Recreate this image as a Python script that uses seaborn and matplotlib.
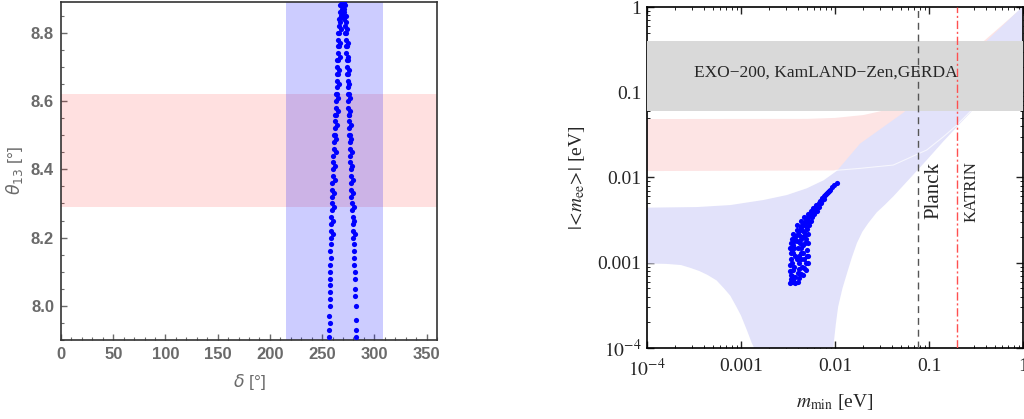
import seaborn as sns
import matplotlib.pyplot as plt
from matplotlib.ticker import MultipleLocator, LogLocator, NullFormatter

# ---- left panel: theta13 vs delta scan ----
left_theta = [7.91, 7.93, 7.95, 7.97, 8.00, 8.02, 8.04, 8.06, 8.08, 8.10, 8.12, 8.14, 8.16,
              8.18, 8.20, 8.22, 8.24, 8.26, 8.28, 8.30, 8.32, 8.34, 8.36, 8.38, 8.40, 8.42,
              8.44, 8.46, 8.48, 8.50, 8.52, 8.54, 8.56, 8.58, 8.60, 8.62, 8.64, 8.66, 8.68,
              8.70, 8.72, 8.74, 8.76, 8.78, 8.80, 8.82, 8.84, 8.86, 8.88]
left_delta = [257.0, 256.8, 257.3, 256.9, 257.2, 257.6, 257.3, 257.8, 257.5, 258.0, 257.7, 258.2, 258.0,
              258.4, 258.2, 258.7, 258.5, 258.9, 259.2, 259.0, 259.5, 259.8, 259.6, 260.2, 260.5, 260.3,
              260.9, 261.2, 261.0, 261.7, 262.0, 262.4, 262.2, 262.9, 263.3, 263.1, 263.8, 264.0, 264.3,
              264.6, 264.4, 265.0, 265.3, 265.1, 265.6, 266.0, 266.4, 267.0, 267.6]
left2_theta = [8.21, 8.25, 8.29, 8.33, 8.37, 8.41, 8.45, 8.49, 8.53, 8.57, 8.61, 8.65, 8.69, 8.73,
               8.77, 8.81, 8.85]
left2_delta = [260.2, 260.6, 261.2, 261.6, 262.2, 262.7, 263.2, 263.7, 264.3, 264.8, 265.3, 265.9,
               266.4, 266.9, 267.4, 267.9, 268.5]
right_theta = [7.91, 7.93, 7.96, 8.00, 8.03, 8.05, 8.08, 8.10, 8.12, 8.14, 8.16, 8.18, 8.20,
               8.22, 8.24, 8.26, 8.28, 8.30, 8.32, 8.34, 8.36, 8.38, 8.40, 8.42, 8.44, 8.46,
               8.48, 8.50, 8.52, 8.54, 8.56, 8.58, 8.60, 8.62, 8.64, 8.66, 8.68, 8.70, 8.72,
               8.74, 8.76, 8.78, 8.80, 8.82, 8.84, 8.86, 8.88]
right_delta = [282.5, 282.3, 282.4, 282.0, 281.9, 281.6, 281.5, 281.2, 280.9, 280.7, 280.5, 280.2, 279.9,
               279.6, 279.4, 279.1, 278.8, 278.4, 278.1, 277.9, 277.7, 277.5, 277.3, 277.1, 276.8, 276.6,
               276.4, 276.1, 275.9, 275.6, 275.4, 275.2, 275.0, 274.8, 274.6, 274.4, 274.2, 274.0, 273.7,
               273.3, 273.0, 272.5, 272.1, 271.6, 271.2, 270.7, 270.2]
right2_theta = [8.21, 8.25, 8.29, 8.33, 8.37, 8.41, 8.45, 8.49, 8.53, 8.57, 8.61, 8.65, 8.69, 8.73,
                8.77, 8.81, 8.85]
right2_delta = [281.4, 280.9, 280.3, 279.7, 279.3, 278.9, 278.4, 277.9, 277.4, 277.0, 276.6, 276.2,
                275.8, 275.2, 274.4, 273.5, 272.6]
top_theta = [8.50, 8.56, 8.62, 8.68, 8.72, 8.76, 8.80, 8.83, 8.85, 8.86, 8.87, 8.88, 8.89, 8.89, 8.88,
             8.87, 8.85, 8.83, 8.80, 8.76, 8.72, 8.68, 8.62, 8.56, 8.50]
top_delta = [262.5, 263.0, 264.0, 265.0, 265.3, 266.0, 266.5, 267.0, 267.8, 268.5, 269.3, 268.2, 269.0,
             270.8, 271.5, 270.5, 270.0, 272.5, 273.0, 274.0, 274.5, 275.0, 275.6, 276.2, 277.0]
theta13_band = (8.29, 8.62)
delta_band = (215, 308)

# ---- right panel: |<m_ee>| vs m_min ----
scan_mmin = [0.0104, 0.0098, 0.0093, 0.0088, 0.0084, 0.0080, 0.0077, 0.0074, 0.0072, 0.0070, 0.0076,
             0.0068, 0.0066, 0.0071, 0.0064, 0.0062, 0.0067, 0.0060, 0.0058, 0.0064, 0.0056, 0.0060,
             0.0054, 0.0052, 0.0057, 0.0050, 0.0055, 0.0048, 0.0046, 0.0053, 0.0044, 0.0050, 0.0042,
             0.0047, 0.0040, 0.0052, 0.0038, 0.0045, 0.0049, 0.0037, 0.0042, 0.0052, 0.0036, 0.0046,
             0.0035, 0.0040, 0.0050, 0.0034, 0.0044, 0.0038, 0.0052, 0.0034, 0.0047, 0.0041, 0.0033,
             0.0051, 0.0037, 0.0045, 0.0033, 0.0049, 0.0040, 0.0035, 0.0046, 0.0034, 0.0041, 0.0036,
             0.0038, 0.0034,
             0.0039, 0.0043, 0.0047, 0.0051, 0.0055, 0.0059, 0.0063, 0.0069, 0.0073, 0.0078, 0.0082,
             0.0086, 0.0036, 0.0039, 0.0043, 0.0048, 0.0052, 0.0035, 0.0041, 0.0045, 0.0049, 0.0034,
             0.0039, 0.0044, 0.0048, 0.0033, 0.0037, 0.0043, 0.0048, 0.0036, 0.0041, 0.0046, 0.0050,
             0.0035, 0.0039, 0.0043, 0.0049, 0.0036, 0.0041, 0.0047, 0.0034, 0.0038, 0.0043, 0.0036,
             0.0040, 0.0033]
scan_mee = [0.0087, 0.0082, 0.0077, 0.0072, 0.0068, 0.0064, 0.0060, 0.0058, 0.0055, 0.0052, 0.0056,
            0.0050, 0.0048, 0.0050, 0.0046, 0.0044, 0.0045, 0.0042, 0.0040, 0.0041, 0.0038, 0.0037,
            0.0036, 0.0034, 0.0034, 0.0032, 0.0031, 0.0030, 0.0028, 0.0028, 0.0026, 0.0025, 0.0024,
            0.0023, 0.0022, 0.0022, 0.0020, 0.0020, 0.0019, 0.0018, 0.0017, 0.0017, 0.0016, 0.0016,
            0.0014, 0.0015, 0.0014, 0.0013, 0.0013, 0.0012, 0.0012, 0.0011, 0.0011, 0.0010, 0.00095,
            0.00098, 0.00088, 0.00090, 0.00080, 0.00082, 0.00076, 0.00070, 0.00072, 0.00064, 0.00066,
            0.00059, 0.00058, 0.00060,
            0.0028, 0.0031, 0.0034, 0.0037, 0.0040, 0.0044, 0.0048, 0.0053, 0.0057, 0.0062, 0.0065,
            0.0070, 0.0022, 0.0024, 0.0027, 0.0030, 0.0031, 0.0019, 0.0021, 0.0024, 0.0027, 0.0017,
            0.0018, 0.0019, 0.0021, 0.0015, 0.0015, 0.0015, 0.0017, 0.0013, 0.0012, 0.0013, 0.0012,
            0.0010, 0.0011, 0.0011, 0.0010, 0.00082, 0.00085, 0.00086, 0.00072, 0.00068, 0.00074, 0.00063,
            0.00060, 0.00058]
no_up_m = [1e-4, 3.4e-4, 7.7e-4, 1.74e-3, 3.08e-3, 5.0e-3, 7.6e-3, 0.0105, 0.0185, 0.0527, 0.1, 0.41, 1.0]
no_up_mee = [0.00443, 0.0045, 0.00475, 0.00545, 0.00623, 0.00746, 0.0093, 0.012, 0.025, 0.057, 0.1, 0.4, 1.02]
no_lo_m = [1e-4, 1.6e-4, 2.3e-4, 2.9e-4, 3.6e-4, 4.4e-4, 5.5e-4, 6.6e-4, 7.7e-4, 9.0e-4, 1.0e-3, 1.16e-3,
           1.3e-3, 1.38e-3, 1.45e-3, 9.0e-3, 9.6e-3, 0.0102, 0.0108, 0.0120, 0.0134, 0.0151, 0.0171,
           0.0195, 0.0225, 0.0278, 0.0340, 0.0417, 0.0628, 0.0945, 0.142, 0.214, 0.273, 0.5, 1.0]
no_lo_mee = [9.8e-4, 9.7e-4, 9.4e-4, 8.7e-4, 8.0e-4, 7.2e-4, 6.2e-4, 5.0e-4, 4.1e-4, 3.0e-4, 2.4e-4, 1.6e-4,
             1.15e-4, 1.0e-4, 5e-5, 5e-5, 1.03e-4, 1.9e-4, 3.05e-4, 5.0e-4, 7.5e-4, 1.15e-3, 1.7e-3,
             2.3e-3, 2.9e-3, 3.9e-3, 4.8e-3, 6.0e-3, 9.8e-3, 0.016, 0.0265, 0.043, 0.057, 0.12, 0.22]
io_up_m = [1e-4, 0.005, 0.01, 0.02, 0.04, 0.1, 1.0]
io_up_mee = [0.0485, 0.0487, 0.050, 0.054, 0.064, 0.11, 1.0]
io_lo_m = [1e-4, 0.01, 0.0185, 0.0417, 0.0945, 0.142, 0.197, 0.273, 1.0]
io_lo_mee = [0.0119, 0.0121, 0.0128, 0.014, 0.021, 0.030, 0.041, 0.059, 0.2]
exp_band = (0.06, 0.4)
planck = 0.076
katrin = 0.2

sns.set_style("ticks")
fig = plt.figure(figsize=(10.24, 4.19), dpi=100)
ax1 = fig.add_axes([61 / 1024, 79 / 419, 376 / 1024, 338 / 419])
ax2 = fig.add_axes([647 / 1024, 71 / 419, 376 / 1024, 341 / 419])

gray = "#6a6a6a"
blue = "#0000ff"

# ----- left -----
ax1.axhspan(*theta13_band, color="#ff0000", alpha=0.12, lw=0)
ax1.axvspan(*delta_band, color="#0000ff", alpha=0.2, lw=0)
for th, de in [(left_theta, left_delta), (left2_theta, left2_delta), (right_theta, right_delta),
               (right2_theta, right2_delta), (top_theta, top_delta)]:
    sns.scatterplot(x=de, y=th, ax=ax1, color=blue, s=14, linewidth=0, zorder=3)
ax1.set_xlim(0, 360)
ax1.set_ylim(7.9, 8.89)
ax1.set_xticks(range(0, 351, 50), [str(v) for v in range(0, 351, 50)],
               fontfamily="Liberation Sans", fontweight="bold", fontsize=12, color=gray)
ax1.set_yticks([8.0, 8.2, 8.4, 8.6, 8.8], ["8.0", "8.2", "8.4", "8.6", "8.8"],
               fontfamily="Liberation Sans", fontweight="bold", fontsize=12, color=gray)
ax1.xaxis.set_minor_locator(MultipleLocator(10))
ax1.yaxis.set_minor_locator(MultipleLocator(0.05))
ax1.tick_params(which="both", direction="in", color=gray, top=False, right=False, pad=5)
ax1.tick_params(which="major", length=4, width=1)
ax1.tick_params(which="minor", length=2.5, width=0.8)
for sp in ax1.spines.values():
    sp.set_color("#333333")
    sp.set_linewidth(1.2)
ax1.set_xlabel(r"$\delta$ [°]", fontsize=12.5, color=gray, fontfamily="Liberation Sans",
               math_fontfamily="dejavusans")
ax1.set_ylabel(r"$\theta_{13}$ [°]", fontsize=12.5, color=gray, fontfamily="Liberation Sans",
               math_fontfamily="dejavusans")
ax1.xaxis.set_label_coords(0.5, -0.095)
ax1.yaxis.set_label_coords(-0.095, 0.5)

# ----- right -----
ax2.set_xscale("log")
ax2.set_yscale("log")
ax2.fill(io_up_m + io_lo_m[::-1], io_up_mee + io_lo_mee[::-1], color="#fde4e4", lw=0, zorder=1)
ax2.fill(no_up_m + no_lo_m[::-1], no_up_mee + no_lo_mee[::-1], color="#e2e2fa", lw=0, zorder=2)
ax2.plot(io_lo_m[1:], io_lo_mee[1:], color="white", lw=0.8, alpha=0.7, zorder=2.5)
ax2.axhspan(*exp_band, color="#d9d9d9", lw=0, zorder=3)
sns.scatterplot(x=scan_mmin, y=scan_mee, ax=ax2, color=blue, s=14, linewidth=0, zorder=4)
ax2.axvline(planck, color="#555555", ls=(0, (5, 3.5)), lw=1, zorder=5)
ax2.axvline(katrin, color="#ff5050", ls=(0, (6, 2, 1.5, 2)), lw=1, zorder=5)
ax2.text(0.008, 0.17, "EXO\u2212200, KamLAND\u2212Zen,GERDA", fontsize=12.5,
         fontfamily="Liberation Serif", ha="center", va="center", zorder=6)
ax2.text(0.112, 0.0071, "Planck", fontsize=15, rotation=90, fontfamily="Liberation Serif",
         ha="center", va="center", zorder=6)
ax2.text(0.283, 0.0068, "KATRIN", fontsize=12, rotation=90, fontfamily="Liberation Serif",
         ha="center", va="center", zorder=6)
ax2.set_xlim(1e-4, 1)
ax2.set_ylim(1e-4, 1)
dec = [1e-4, 1e-3, 1e-2, 0.1, 1]
dec_labels = [r"$10^{-4}$", "0.001", "0.01", "0.1", "1"]
ax2.set_xticks(dec, dec_labels, fontfamily="Liberation Serif", fontsize=14, math_fontfamily="stix")
ax2.set_yticks(dec, dec_labels, fontfamily="Liberation Serif", fontsize=14, math_fontfamily="stix")
for axis in (ax2.xaxis, ax2.yaxis):
    axis.set_minor_locator(LogLocator(base=10, subs=range(2, 10), numticks=20))
    axis.set_minor_formatter(NullFormatter())
ax2.tick_params(which="both", direction="in", top=True, right=True, color="#222222")
ax2.tick_params(which="major", length=5, width=1)
ax2.tick_params(which="minor", length=2.5, width=0.7)
ax2.tick_params(axis="x", pad=7)
ax2.tick_params(axis="y", pad=4)
for sp in ax2.spines.values():
    sp.set_color("black")
    sp.set_linewidth(1.2)
ax2.set_xlabel(r"$m_{\rm min}$ [eV]", fontsize=14, fontfamily="Liberation Serif", math_fontfamily="stix")
ax2.set_ylabel(r"$|\!<\!m_{\rm ee}\!>\!|$ [eV]", fontsize=14, fontfamily="Liberation Serif",
               math_fontfamily="stix")
ax2.xaxis.set_label_coords(0.5, -0.13)
ax2.yaxis.set_label_coords(-0.16, 0.5)

fig.savefig("out.png", dpi=100)
